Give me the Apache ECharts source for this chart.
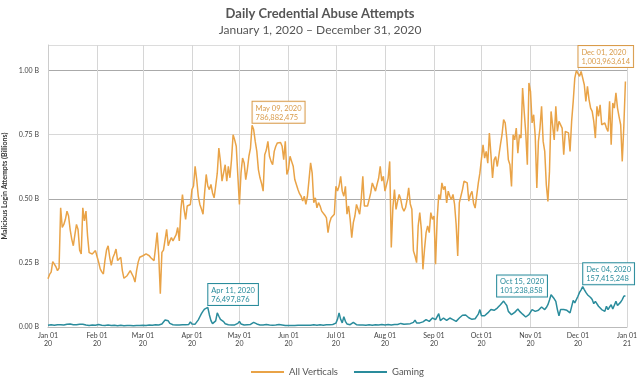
<!DOCTYPE html>
<html><head><meta charset="utf-8">
<script src="https://cdn.jsdelivr.net/npm/echarts@6/dist/echarts.min.js"></script>
<style>html,body{margin:0;padding:0;background:#fff}#c{width:640px;height:378px}</style>
</head><body><div id="c"></div>
<script>
// Daily values, Jan 1 2020 .. Dec 31 2020, in billions
const allVerticals = [
0.188,0.205,0.214,0.255,0.245,0.235,0.22,0.23,0.465,0.388,
0.40,0.42,0.452,0.433,0.38,0.343,0.317,0.36,0.40,0.38,
0.30,0.285,0.465,0.414,0.452,0.356,0.29,0.288,0.285,0.29,
0.298,0.275,0.253,0.227,0.215,0.207,0.26,0.30,0.317,0.272,
0.24,0.27,0.285,0.304,0.259,0.265,0.272,0.22,0.19,0.188,
0.20,0.21,0.22,0.214,0.195,0.175,0.22,0.253,0.272,0.275,
0.278,0.28,0.285,0.28,0.278,0.27,0.265,0.259,0.31,0.368,
0.278,0.13,0.291,0.30,0.304,0.381,0.317,0.335,0.349,0.336,
0.343,0.36,0.388,0.336,0.459,0.517,0.459,0.42,0.472,0.478,
0.478,0.536,0.55,0.627,0.575,0.51,0.478,0.46,0.44,0.523,
0.595,0.55,0.536,0.556,0.523,0.504,0.55,0.60,0.698,0.646,
0.569,0.562,0.633,0.569,0.627,0.582,0.653,0.75,0.73,0.705,
0.59,0.478,0.60,0.659,0.64,0.575,0.614,0.666,0.698,0.787,
0.77,0.724,0.685,0.614,0.582,0.56,0.53,0.672,0.69,0.724,
0.666,0.646,0.633,0.685,0.705,0.718,0.724,0.72,0.705,0.653,
0.724,0.595,0.614,0.666,0.646,0.627,0.575,0.556,0.536,0.52,
0.51,0.491,0.51,0.478,0.51,0.575,0.64,0.60,0.485,0.504,
0.465,0.485,0.472,0.452,0.446,0.436,0.426,0.368,0.407,0.426,
0.426,0.44,0.549,0.53,0.55,0.588,0.53,0.51,0.549,0.44,
0.472,0.42,0.348,0.407,0.433,0.478,0.459,0.44,0.497,0.588,
0.472,0.472,0.472,0.497,0.523,0.562,0.569,0.53,0.556,0.58,
0.627,0.569,0.588,0.53,0.536,0.58,0.646,0.31,0.465,0.536,
0.459,0.491,0.517,0.497,0.465,0.452,0.465,0.497,0.543,0.48,
0.459,0.297,0.277,0.251,0.394,0.446,0.381,0.225,0.303,0.368,
0.394,0.368,0.446,0.42,0.433,0.245,0.42,0.517,0.497,0.562,
0.536,0.549,0.484,0.53,0.51,0.497,0.517,0.478,0.40,0.277,
0.484,0.51,0.536,0.569,0.569,0.562,0.491,0.516,0.529,0.483,
0.464,0.464,0.561,0.60,0.60,0.711,0.659,0.685,0.639,0.757,
0.672,0.581,0.652,0.665,0.626,0.633,0.711,0.75,0.809,0.796,
0.737,0.652,0.633,0.548,0.75,0.73,0.776,0.678,0.75,0.737,
0.932,0.841,0.757,0.633,0.952,0.919,0.796,0.828,0.743,0.542,
0.724,0.776,0.861,0.724,0.685,0.555,0.49,0.607,0.841,0.841,
0.73,0.861,0.763,0.802,0.796,0.776,0.672,0.763,0.77,0.757,
0.685,0.802,0.88,0.971,1.0,1.004,0.978,0.997,0.997,0.945,
0.88,0.939,0.887,0.854,0.841,0.802,0.737,0.861,0.822,0.867,
0.789,0.783,0.796,0.776,0.763,0.88,0.711,0.874,0.854,0.913,
0.854,0.82,0.789,0.646,0.783,0.958
];
const gaming = [
0.007,0.008,0.009,0.008,0.007,0.008,0.009,0.01,0.009,0.008,
0.008,0.009,0.011,0.013,0.012,0.01,0.009,0.008,0.009,0.01,
0.011,0.013,0.011,0.009,0.008,0.007,0.006,0.007,0.008,0.007,
0.007,0.008,0.01,0.009,0.007,0.006,0.006,0.007,0.008,0.007,
0.006,0.006,0.007,0.006,0.005,0.006,0.007,0.006,0.005,0.005,
0.006,0.007,0.006,0.005,0.005,0.006,0.006,0.007,0.006,0.006,
0.007,0.006,0.006,0.007,0.008,0.007,0.007,0.008,0.009,0.008,
0.008,0.01,0.012,0.018,0.027,0.031,0.024,0.014,0.01,0.009,
0.008,0.008,0.009,0.008,0.008,0.009,0.008,0.009,0.012,0.01,
0.02,0.012,0.018,0.011,0.012,0.028,0.04,0.052,0.062,0.07,
0.074,0.0765,0.048,0.025,0.013,0.012,0.024,0.055,0.042,0.03,
0.025,0.021,0.013,0.01,0.009,0.009,0.008,0.009,0.008,0.01,
0.014,0.022,0.012,0.009,0.008,0.008,0.009,0.008,0.01,0.012,
0.018,0.022,0.012,0.009,0.008,0.007,0.008,0.009,0.01,0.008,
0.008,0.009,0.007,0.007,0.008,0.009,0.01,0.009,0.008,0.007,
0.006,0.007,0.006,0.005,0.006,0.007,0.006,0.006,0.007,0.008,
0.007,0.006,0.007,0.008,0.007,0.006,0.007,0.008,0.009,0.008,
0.007,0.008,0.009,0.008,0.007,0.008,0.009,0.01,0.009,0.009,
0.01,0.012,0.015,0.03,0.055,0.03,0.016,0.04,0.022,0.012,
0.01,0.009,0.012,0.018,0.012,0.009,0.008,0.008,0.009,0.008,
0.008,0.007,0.008,0.009,0.008,0.007,0.008,0.009,0.008,0.008,
0.009,0.01,0.009,0.008,0.009,0.01,0.009,0.008,0.009,0.01,
0.011,0.01,0.012,0.014,0.012,0.011,0.01,0.012,0.015,0.013,
0.014,0.018,0.027,0.016,0.014,0.016,0.018,0.02,0.024,0.029,
0.025,0.022,0.028,0.035,0.031,0.029,0.033,0.052,0.025,0.028,
0.035,0.03,0.026,0.03,0.035,0.031,0.029,0.026,0.022,0.028,
0.035,0.04,0.046,0.052,0.047,0.042,0.036,0.031,0.03,0.029,
0.032,0.035,0.05,0.068,0.044,0.042,0.044,0.05,0.055,0.062,
0.068,0.061,0.065,0.07,0.074,0.081,0.087,0.094,0.1012,0.092,
0.084,0.061,0.054,0.048,0.052,0.057,0.064,0.07,0.062,0.055,
0.05,0.044,0.039,0.043,0.048,0.058,0.068,0.064,0.061,0.063,
0.065,0.071,0.078,0.073,0.068,0.076,0.087,0.105,0.126,0.12,
0.11,0.1,0.068,0.044,0.068,0.068,0.068,0.067,0.065,0.06,
0.055,0.057,0.104,0.094,0.1,0.12,0.135,0.145,0.1574,0.146,
0.135,0.126,0.12,0.115,0.107,0.091,0.1,0.107,0.081,0.075,
0.068,0.065,0.061,0.081,0.068,0.078,0.087,0.07,0.085,0.1,
0.084,0.09,0.097,0.107,0.12,0.122
];
const yTicks = [0, 0.25, 0.5, 0.75, 1.0];
const monthNames = ['Jan','Feb','Mar','Apr','May','Jun','Jul','Aug','Sep','Oct','Nov','Dec'];
const allAnnDates = ['2020-05-09', '2020-12-01'];
const allAnnTexts = ['May 09, 2020\n786,882,475', 'Dec 01, 2020\n1,003,963,614'];
const gamAnnDates = ['2020-04-11', '2020-10-15', '2020-12-04'];
const gamAnnTexts = ['Apr 11, 2020\n76,497,876', 'Oct 15, 2020\n101,238,858', 'Dec 04, 2020\n157,415,248'];

// categories: Jan 1 2020 .. Jan 1 2021
const categories = [];
{
  const t0 = Date.UTC(2020, 0, 1);
  for (let i = 0; i <= 366; i++) {
    const d = new Date(t0 + i * 86400000);
    categories.push(d.toISOString().slice(0, 10));
  }
}
const ORANGE = '#E9A347', TEAL = '#2A8C9C';
const FONT = 'Lato, "Noto Sans", sans-serif';
const isMonthStart = (i, v) => categories[i].slice(8) === '01';

function annLabel(color) {
  return {
    show: true, position: [1, -2], align: 'left', verticalAlign: 'bottom',
    color: color, fontSize: 7.5, lineHeight: 9, fontFamily: FONT,
    backgroundColor: 'rgba(255,255,255,0.92)', borderColor: color, borderWidth: 1,
    padding: [2, 3, 1, 3]
  };
}
function markData(dates, texts, values, offsets) {
  return dates.map((d, i) => {
    const idx = categories.indexOf(d);
    const item = { coord: [d, values[idx]], label: { formatter: texts[i] } };
    if (offsets && offsets[i]) item.label.offset = offsets[i];
    return item;
  });
}

const chart = echarts.init(document.getElementById('c'), null, { renderer: 'canvas' });
chart.setOption({
  animation: false,
  backgroundColor: '#fff',
  title: {
    text: 'Daily Credential Abuse Attempts',
    subtext: 'January 1, 2020 \u2013 December 31, 2020',
    left: 'center', top: 2, itemGap: 4,
    textStyle: { fontFamily: FONT, fontSize: 13, fontWeight: 'bold', color: '#555' },
    subtextStyle: { fontFamily: FONT, fontSize: 12, color: '#555' }
  },
  legend: {
    left: 246, top: 362, icon: 'rect', itemWidth: 33, itemHeight: 2, itemGap: 16,
    textStyle: { fontFamily: FONT, fontSize: 9.5, color: '#555' },
    data: ['All Verticals', 'Gaming']
  },
  grid: { left: 48, right: 13, top: 45, bottom: 51, containLabel: false, outerBoundsMode: 'none' },
  xAxis: {
    type: 'category', data: categories, boundaryGap: false,
    axisLine: { lineStyle: { color: '#bbb' } },
    axisTick: { show: false },
    axisLabel: {
      interval: isMonthStart, fontFamily: FONT, fontSize: 7, lineHeight: 8, color: '#444', margin: 5,
      formatter: v => monthNames[+v.slice(5, 7) - 1] + ' 01\n' + v.slice(2, 4)
    },
    splitLine: { show: true, interval: isMonthStart, lineStyle: { color: '#d6d6d6', width: 1 } }
  },
  yAxis: {
    type: 'value', min: 0, max: 1.1, interval: 0.25,
    name: 'Malicious Login Attempts (Billions)', nameLocation: 'middle', nameGap: 38, nameRotate: 90,
    nameTextStyle: { fontFamily: FONT, fontSize: 7, fontWeight: 'bold', color: '#333' },
    axisLine: { show: true, lineStyle: { color: '#ccc' } },
    axisTick: { show: false },
    axisLabel: {
      showMaxLabel: false, fontFamily: FONT, fontSize: 7, color: '#444', margin: 9,
      formatter: v => yTicks.indexOf(v) >= 0 ? v.toFixed(2) + ' B' : ''
    },
    splitLine: { show: true, lineStyle: { color: ['#aaa', '#d8d8d8', '#aaa', '#d8d8d8', '#aaa', '#dcdcdc'], width: 1 } }
  },
  series: [
    {
      name: 'All Verticals', type: 'line', data: allVerticals, showSymbol: false,
      color: ORANGE, lineStyle: { width: 1.5, color: ORANGE }, z: 3,
      markPoint: {
        symbol: 'rect', symbolSize: 1, itemStyle: { color: 'rgba(0,0,0,0)' },
        label: annLabel('#D99B4A'),
        data: markData(allAnnDates, allAnnTexts, allVerticals)
      }
    },
    {
      name: 'Gaming', type: 'line', data: gaming, showSymbol: false,
      color: TEAL, lineStyle: { width: 1.5, color: TEAL }, z: 4,
      markPoint: {
        symbol: 'rect', symbolSize: 1, itemStyle: { color: 'rgba(0,0,0,0)' },
        label: annLabel(TEAL),
        data: markData(gamAnnDates, gamAnnTexts, gaming, [null, [-7, -2], null])
      }
    }
  ]
});
</script>
</body></html>
